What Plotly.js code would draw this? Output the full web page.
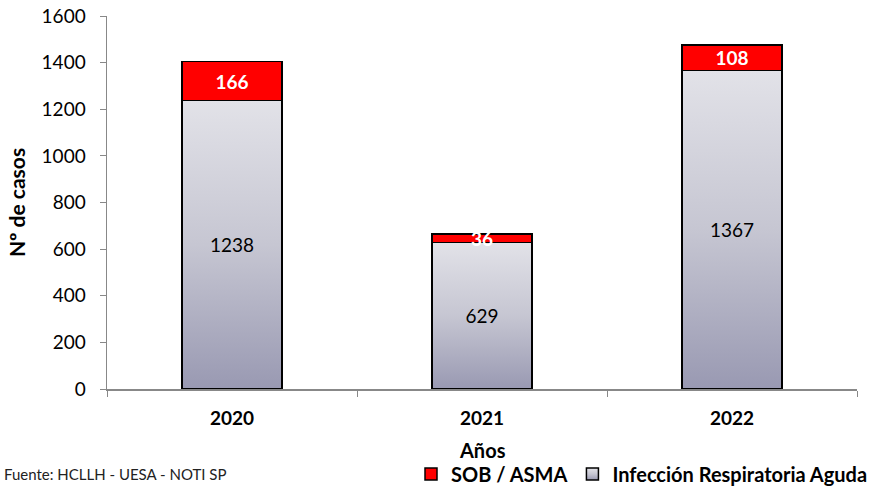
<!DOCTYPE html>
<html><head><meta charset="utf-8">
<script src="https://cdn.plot.ly/plotly-3.0.1.min.js"></script>
<style>html,body{margin:0;padding:0;background:#fff}#chart{width:873px;height:491px}</style>
</head><body><div id="chart"></div>
<script>
var years = ['2020', '2021', '2022'];
var ira = [1238, 629, 1367];
var sob = [166, 36, 108];
var yTicks = [0, 200, 400, 600, 800, 1000, 1200, 1400, 1600];

var FONT = 'Lato, "Open Sans", sans-serif';

var traces = [
  {type: 'bar', name: 'Infección Respiratoria Aguda', x: years, y: ira,
   text: ira.map(String), textposition: 'inside', insidetextanchor: 'middle', constraintext: 'none', textangle: 0,
   textfont: {family: FONT, size: 19, color: '#000'},
   marker: {color: '#c4c4d0', line: {color: '#000', width: 1.5}}, width: 0.4, hoverinfo: 'none'},
  {type: 'bar', name: 'SOB / ASMA', x: years, y: sob,
   text: sob.map(String), textposition: 'inside', insidetextanchor: 'middle', constraintext: 'none', textangle: 0,
   textfont: {family: FONT, size: 19, color: '#fff', weight: 'bold'},
   marker: {color: '#ff0000', line: {color: '#000', width: 1.5}}, width: 0.4, hoverinfo: 'none'}
];

var layout = {
  width: 873, height: 491,
  margin: {l: 107, r: 16, t: 16, b: 102},
  barmode: 'stack',
  paper_bgcolor: '#fff', plot_bgcolor: '#fff',
  font: {family: FONT, size: 16, color: '#000'},
  showlegend: true,
  legend: {orientation: 'h', xref: 'container', yref: 'container', x: 1.0, xanchor: 'right',
    y: 1 - 474/491, yanchor: 'middle',
    traceorder: 'reversed', font: {family: FONT, size: 20, weight: 'bold'},
    itemwidth: 30, tracegroupgap: 0, bgcolor: 'rgba(0,0,0,0)'},
  xaxis: {
    type: 'category', showline: true, linecolor: '#888', linewidth: 1.5,
    ticks: 'outside', tickson: 'boundaries', ticklen: 6, tickcolor: '#888',
    ticklabelstandoff: 12,
    tickfont: {family: FONT, size: 19, weight: 'bold'},
    showgrid: false, zeroline: false, fixedrange: true, automargin: false
  },
  yaxis: {
    range: [0, 1600], tickvals: yTicks, ticktext: yTicks.map(String),
    showline: true, linecolor: '#888', linewidth: 1.5,
    ticks: 'outside', ticklen: 6, tickcolor: '#888',
    ticklabelstandoff: 10,
    tickfont: {family: FONT, size: 19},
    title: {text: '<b>Nº de casos</b>', font: {family: FONT, size: 21}, standoff: 10},
    showgrid: false, zeroline: false, fixedrange: true, automargin: false
  },
  annotations: [
    {text: '<b>Años</b>', xref: 'paper', yref: 'paper',
     x: 0.5, xanchor: 'center', y: -0.1635, yanchor: 'middle', showarrow: false,
     font: {family: FONT, size: 20, color: '#000'}},
    {text: 'Fuente: HCLLH - UESA - NOTI SP', xref: 'paper', yref: 'paper',
     x: -0.14, xanchor: 'left', y: -0.228, yanchor: 'middle', showarrow: false,
     font: {family: FONT, size: 15, color: '#222'}}
  ]
};

Plotly.newPlot('chart', traces, layout, {staticPlot: true}).then(function(gd){
  var svg = gd.querySelector('svg.main-svg');
  var ns = 'http://www.w3.org/2000/svg';
  var defs = svg.querySelector('defs') || svg.insertBefore(document.createElementNS(ns, 'defs'), svg.firstChild);
  var g = document.createElementNS(ns, 'linearGradient');
  g.setAttribute('id', 'iraGrad'); g.setAttribute('x1', '0'); g.setAttribute('y1', '0');
  g.setAttribute('x2', '0'); g.setAttribute('y2', '1');
  [['0', '#e2e2e8'], ['0.5', '#c6c6d2'], ['1', '#9999b2']].forEach(function(s){
    var st = document.createElementNS(ns, 'stop');
    st.setAttribute('offset', s[0]); st.setAttribute('stop-color', s[1]);
    g.appendChild(st);
  });
  defs.appendChild(g);
  var barTraces = gd.querySelectorAll('.barlayer .trace.bars');
  if (barTraces.length) {
    barTraces[0].querySelectorAll('path').forEach(function(p){ p.style.fill = 'url(#iraGrad)'; });
  }
  var legPts = gd.querySelectorAll('.legend .traces');
  legPts.forEach(function(t){
    if (t.textContent.indexOf('Infecci') >= 0) {
      t.querySelectorAll('.legendpoints path').forEach(function(p){ p.style.fill = 'url(#iraGrad)'; });
    }
  });
});
</script></body></html>
